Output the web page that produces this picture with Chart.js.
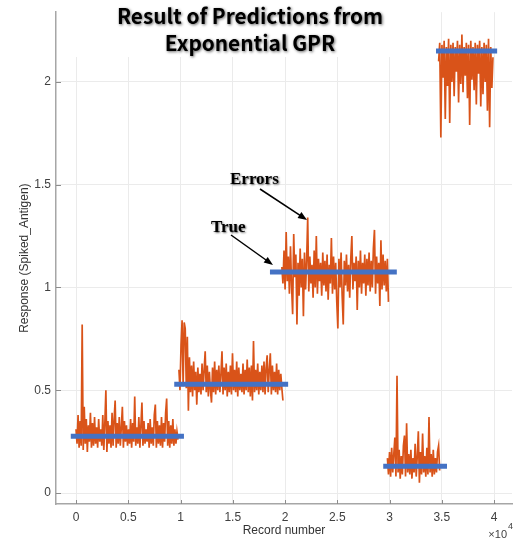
<!DOCTYPE html>
<html lang="en">
<head>
    <meta charset="UTF-8">
    <title>Result of Predictions from Exponential GPR</title>
    <script src="https://cdn.jsdelivr.net/npm/chart.js"></script>
    <style>
        body { margin: 0; background: #fff; }
        #wrap { position: relative; width: 514px; height: 542px; }
    </style>
</head>
<body>
    <div id="wrap"><canvas id="gprChart"></canvas></div>
    <script>
        // record ranges of the five groups (prediction errors)
        const segStart = [0, 9850, 19700, 29800, 34700];
        const segEnd = [9760, 19800, 29900, 34800, 39900];

        // predicted responses, one array per group
        const errors1 = [
            0.31, 0.24, 0.38, 0.22, 0.35, 0.23, 0.82, 0.21, 0.42, 0.24,
            0.36, 0.20, 0.33, 0.25, 0.39, 0.22, 0.34, 0.23, 0.37, 0.24,
            0.32, 0.22, 0.36, 0.25, 0.31, 0.23, 0.38, 0.21, 0.34, 0.50,
            0.20, 0.35, 0.24, 0.33, 0.22, 0.39, 0.23, 0.36, 0.45, 0.22,
            0.34, 0.24, 0.37, 0.23, 0.32, 0.42, 0.22, 0.35, 0.25, 0.33,
            0.23, 0.31, 0.24, 0.36, 0.22, 0.34, 0.25, 0.47, 0.23, 0.32,
            0.24, 0.37, 0.22, 0.33, 0.44, 0.23, 0.35, 0.24, 0.31, 0.25,
            0.34, 0.22, 0.36, 0.24, 0.32, 0.23, 0.38, 0.43, 0.22, 0.35,
            0.24, 0.33, 0.23, 0.37, 0.22, 0.34, 0.25, 0.39, 0.46, 0.23,
            0.35, 0.22, 0.33, 0.24, 0.36, 0.23, 0.31, 0.24, 0.30, 0.26
        ];
        const errors2 = [
            0.60, 0.50, 0.72, 0.84, 0.52, 0.83, 0.80, 0.51, 0.76, 0.40,
            0.66, 0.49, 0.62, 0.47, 0.64, 0.50, 0.59, 0.43, 0.61, 0.49,
            0.58, 0.48, 0.63, 0.50, 0.60, 0.69, 0.49, 0.62, 0.47, 0.59,
            0.50, 0.44, 0.61, 0.49, 0.64, 0.48, 0.60, 0.50, 0.62, 0.49,
            0.58, 0.69, 0.48, 0.61, 0.50, 0.63, 0.47, 0.59, 0.49, 0.62,
            0.48, 0.68, 0.50, 0.60, 0.49, 0.64, 0.47, 0.61, 0.50, 0.58,
            0.49, 0.63, 0.48, 0.60, 0.50, 0.65, 0.49, 0.61, 0.47, 0.62,
            0.45, 0.74, 0.49, 0.60, 0.50, 0.63, 0.48, 0.59, 0.50, 0.62,
            0.49, 0.64, 0.48, 0.61, 0.67, 0.49, 0.60, 0.68, 0.48, 0.62,
            0.50, 0.59, 0.49, 0.63, 0.48, 0.60, 0.50, 0.58, 0.51, 0.45
        ];
        const errors3 = [
            1.10, 1.02, 1.18, 0.99, 1.27, 1.03, 1.15, 0.97, 1.20, 1.01,
            0.87, 1.26, 1.05, 1.16, 0.82, 1.12, 0.96, 1.19, 1.00, 1.14,
            0.86, 1.17, 0.99, 1.13, 1.34, 0.98, 1.15, 1.02, 1.11, 0.95,
            1.18, 1.00, 1.25, 0.97, 1.14, 1.03, 1.12, 0.96, 1.17, 1.01,
            1.13, 0.98, 1.16, 0.94, 1.11, 1.02, 1.24, 0.97, 1.15, 0.99,
            1.12, 0.93, 0.80, 1.14, 1.00, 1.17, 0.96, 0.82, 1.13, 1.01,
            1.16, 0.98, 1.11, 0.95, 1.14, 1.25, 0.99, 1.12, 1.03, 1.15,
            0.89, 1.13, 1.00, 1.18, 0.97, 1.12, 1.02, 1.16, 0.96, 1.14,
            1.01, 1.17, 0.98, 1.13, 1.00, 1.19, 1.28, 0.97, 1.15, 1.02,
            1.12, 0.91, 1.23, 0.99, 1.16, 1.01, 1.13, 0.98, 1.14, 0.93
        ];
        const errors4 = [
            0.17, 0.09, 0.20, 0.08, 0.22, 0.10, 0.19, 0.27, 0.08, 0.57,
            0.10, 0.21, 0.07, 0.18, 0.09, 0.23, 0.28, 0.08, 0.34, 0.10,
            0.19, 0.09, 0.21, 0.07, 0.17, 0.10, 0.24, 0.08, 0.18, 0.30,
            0.05, 0.20, 0.09, 0.29, 0.10, 0.18, 0.08, 0.22, 0.09, 0.37,
            0.10, 0.19, 0.08, 0.21, 0.09, 0.17, 0.10, 0.20, 0.23, 0.11
        ];
        const errors5 = [
            2.10, 2.19, 1.73, 2.18, 2.02, 2.20, 1.82, 2.17, 1.98, 2.21,
            1.80, 2.18, 2.00, 2.19, 1.93, 2.17, 2.05, 2.20, 1.90, 2.18,
            1.99, 2.23, 1.95, 2.17, 2.03, 2.19, 1.92, 2.18, 1.79, 2.20,
            2.01, 2.17, 1.96, 2.19, 1.89, 2.18, 2.04, 2.20, 1.88, 2.17,
            1.94, 2.19, 2.00, 2.18, 1.86, 2.21, 1.78, 2.17, 1.97, 2.12
        ];
        const errorGroups = [errors1, errors2, errors3, errors4, errors5];

        // true responses (blue bars)
        const trueValues = [0.276, 0.529, 1.075, 0.13, 2.15];
        const trueFrom = [-500, 9400, 18560, 29400, 34450];
        const trueTo = [10330, 20300, 30700, 35500, 40300];

        const xTicks = [0, 5000, 10000, 15000, 20000, 25000, 30000, 35000, 40000];
        const yTicks = [0, 0.5, 1, 1.5, 2];

        // build point lists, a null point breaks the line between groups
        const errorPoints = [];
        errorGroups.forEach((vals, g) => {
            const step = (segEnd[g] - segStart[g]) / (vals.length - 1);
            vals.forEach((v, i) => errorPoints.push({ x: segStart[g] + i * step, y: v }));
            errorPoints.push({ x: segEnd[g] + 1, y: null });
        });
        const truePoints = [];
        trueValues.forEach((v, g) => {
            truePoints.push({ x: trueFrom[g], y: v });
            truePoints.push({ x: trueTo[g], y: v });
            truePoints.push({ x: trueTo[g] + 1, y: null });
        });

        const textColor = '#404040';

        const decorations = {
            id: 'decorations',
            beforeDatasetsDraw(chart) {
                // MATLAB-style ticks pointing into the plot
                const { ctx, chartArea, scales } = chart;
                ctx.save();
                ctx.strokeStyle = '#8c8c8c';
                ctx.lineWidth = 1;
                ctx.beginPath();
                xTicks.forEach(t => {
                    const px = Math.round(scales.x.getPixelForValue(t)) + 0.5;
                    ctx.moveTo(px, chartArea.bottom);
                    ctx.lineTo(px, chartArea.bottom - 4);
                });
                yTicks.forEach(t => {
                    const py = Math.round(scales.y.getPixelForValue(t)) + 0.5;
                    ctx.moveTo(chartArea.left, py);
                    ctx.lineTo(chartArea.left + 5, py);
                });
                ctx.stroke();
                ctx.restore();
            },
            afterDraw(chart) {
                const { ctx } = chart;
                ctx.save();

                // title box sits over the top of the axes
                ctx.fillStyle = '#fff';
                ctx.fillRect(58, 0, 362, 57);

                const line1 = 'Result of Predictions from';
                const line2 = 'Exponential GPR';
                ctx.font = "bold 20px 'Noto Sans CJK KR'";
                const size = 20 * 266 / ctx.measureText(line1).width;
                ctx.font = "bold " + size.toFixed(1) + "px 'Noto Sans CJK KR'";
                ctx.textAlign = 'center';
                ctx.textBaseline = 'middle';
                ctx.shadowColor = 'rgba(0,0,0,0.6)';
                ctx.shadowBlur = 3;
                ctx.shadowOffsetX = 1;
                ctx.shadowOffsetY = 1;
                ctx.fillStyle = '#000';
                ctx.fillText(line1, 250, 16);
                ctx.fillText(line2, 250, 43);

                // annotations
                ctx.font = "bold 17px 'Liberation Serif'";
                ctx.textAlign = 'left';
                ctx.shadowBlur = 2;
                ctx.fillText('Errors', 230, 180);
                ctx.fillText('True', 211, 228);
                ctx.shadowColor = 'transparent';

                const arrow = (x1, y1, x2, y2) => {
                    const a = Math.atan2(y2 - y1, x2 - x1);
                    ctx.strokeStyle = '#000';
                    ctx.lineWidth = 1.5;
                    ctx.beginPath();
                    ctx.moveTo(x1, y1);
                    ctx.lineTo(x2 - 6 * Math.cos(a), y2 - 6 * Math.sin(a));
                    ctx.stroke();
                    ctx.beginPath();
                    ctx.moveTo(x2, y2);
                    ctx.lineTo(x2 - 9 * Math.cos(a) + 3.5 * Math.sin(a), y2 - 9 * Math.sin(a) - 3.5 * Math.cos(a));
                    ctx.lineTo(x2 - 9 * Math.cos(a) - 3.5 * Math.sin(a), y2 - 9 * Math.sin(a) + 3.5 * Math.cos(a));
                    ctx.closePath();
                    ctx.fillStyle = '#000';
                    ctx.fill();
                };
                arrow(260, 189, 307, 220);
                arrow(231, 235, 273, 265);

                // exponent label of the x axis
                ctx.fillStyle = textColor;
                ctx.textAlign = 'right';
                ctx.textBaseline = 'alphabetic';
                ctx.font = "11px 'Liberation Sans'";
                ctx.fillText('\u00d710', 507, 538);
                ctx.textAlign = 'left';
                ctx.font = "9px 'Liberation Sans'";
                ctx.fillText('4', 508, 529);
                ctx.restore();
            }
        };

        new Chart(document.getElementById('gprChart'), {
            type: 'line',
            data: {
                datasets: [
                    {
                        label: 'True',
                        data: truePoints,
                        borderColor: 'rgb(68,114,196)',
                        borderWidth: 5,
                        pointRadius: 0,
                        spanGaps: false
                    },
                    {
                        label: 'Errors',
                        data: errorPoints,
                        borderColor: 'rgb(217,83,25)',
                        borderWidth: 1.7,
                        borderJoinStyle: 'miter',
                        pointRadius: 0,
                        spanGaps: false
                    }
                ]
            },
            options: {
                responsive: true,
                maintainAspectRatio: false,
                animation: false,
                layout: { padding: { top: 10, right: 2, left: 0, bottom: 0 } },
                plugins: {
                    legend: { display: false },
                    tooltip: { enabled: false }
                },
                elements: { line: { tension: 0 } },
                scales: {
                    x: {
                        type: 'linear',
                        min: -1914,
                        max: 41722,
                        afterBuildTicks: s => { s.ticks = xTicks.map(v => ({ value: v })); },
                        afterFit: s => { s.height = 38; },
                        grid: { color: '#ebebeb', drawTicks: false },
                        border: { color: '#a6a6a6', width: 1.5 },
                        ticks: {
                            padding: 6,
                            color: textColor,
                            font: { family: 'Liberation Sans', size: 12 },
                            callback: v => String(v / 10000)
                        },
                        title: {
                            display: true,
                            text: 'Record number',
                            color: '#333',
                            font: { family: 'Liberation Sans', size: 12 },
                            padding: { top: 0, bottom: 4 }
                        }
                    },
                    y: {
                        min: -0.0533,
                        max: 2.339,
                        afterBuildTicks: s => { s.ticks = yTicks.map(v => ({ value: v })); },
                        afterFit: s => { s.width = 56; },
                        grid: { color: '#ebebeb', drawTicks: false },
                        border: { color: '#a6a6a6', width: 1.5 },
                        ticks: {
                            padding: 5,
                            color: textColor,
                            font: { family: 'Liberation Sans', size: 12 },
                            callback: v => String(v)
                        },
                        title: {
                            display: true,
                            text: 'Response (Spiked_Antigen)',
                            color: '#333',
                            font: { family: 'Liberation Sans', size: 12 },
                            padding: { top: 17, bottom: 0 }
                        }
                    }
                }
            },
            plugins: [decorations]
        });
    </script>
</body>
</html>
